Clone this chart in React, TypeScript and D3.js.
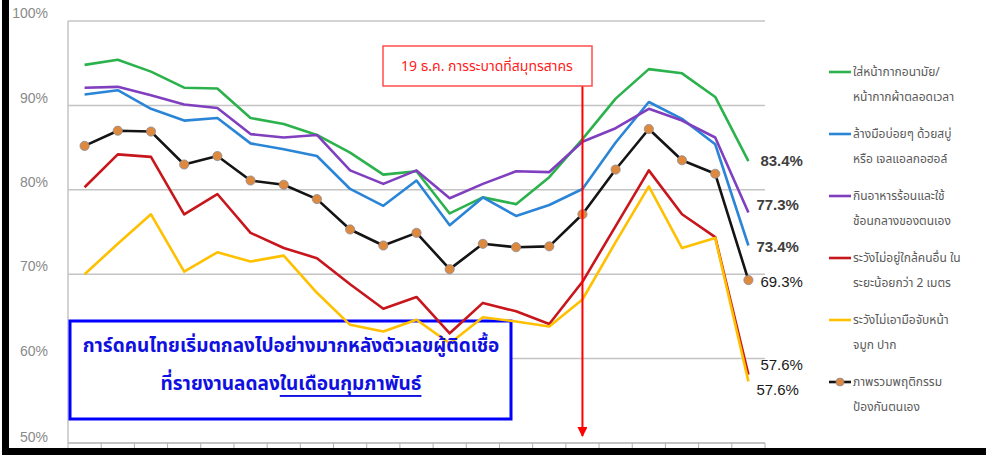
import * as d3 from "d3";

// 21 survey rounds (no labels shown on the axis)
const periods = ["1", "2", "3", "4", "5", "6", "7", "8", "9", "10", "11", "12", "13", "14", "15", "16", "17", "18", "19", "20", "21"];

const maskValues = [94.8, 95.4, 94.0, 92.1, 92.0, 88.5, 87.8, 86.5, 84.4, 81.8, 82.2, 77.2, 79.1, 78.3, 81.5, 86.0, 90.8, 94.3, 93.8, 91.0, 83.4];
const handValues = [91.3, 91.8, 89.6, 88.2, 88.5, 85.5, 84.8, 84.0, 80.1, 78.1, 81.1, 75.8, 79.1, 76.9, 78.2, 80.1, 85.6, 90.4, 88.4, 85.4, 73.4];
const foodValues = [92.1, 92.2, 91.2, 90.1, 89.7, 86.6, 86.2, 86.5, 82.3, 80.7, 82.3, 79.0, 80.7, 82.2, 82.1, 85.7, 87.3, 89.6, 88.2, 86.2, 77.3];
const distanceValues = [80.3, 84.2, 83.9, 77.1, 79.5, 74.9, 73.1, 71.9, 68.8, 65.9, 67.3, 63.0, 66.6, 65.6, 64.1, 69.1, 75.7, 82.3, 77.1, 74.4, 58.1];
const faceValues = [70.0, 73.6, 77.1, 70.3, 72.6, 71.5, 72.2, 67.8, 64.0, 63.2, 64.6, 61.8, 64.9, 64.4, 63.8, 67.0, 73.8, 80.4, 73.1, 74.3, 57.3];
const overallValues = [85.2, 87.0, 86.9, 83.0, 84.0, 81.1, 80.6, 78.9, 75.3, 73.4, 74.9, 70.6, 73.6, 73.2, 73.3, 77.1, 82.4, 87.2, 83.5, 81.9, 69.3];

const seriesNames = [
  ["ใส่หน้ากากอนามัย/", "หน้ากากผ้าตลอดเวลา"],
  ["ล้างมือบ่อยๆ ด้วยสบู่", "หรือ เจลแอลกอฮอล์"],
  ["กินอาหารร้อนและใช้", "ช้อนกลางของตนเอง"],
  ["ระวังไม่อยู่ใกล้คนอื่น ใน", "ระยะน้อยกว่า 2 เมตร"],
  ["ระวังไม่เอามือจับหน้า", "จมูก ปาก"],
  ["ภาพรวมพฤติกรรม", "ป้องกันตนเอง"],
];
const seriesColors = ["#2bb24c", "#2a85d6", "#7f3fbf", "#c8161d", "#ffc000", "#141414"];
const endLabels = ["83.4%", "73.4%", "77.3%", "57.6%", "57.6%", "69.3%"];
const yTicks = [50, 60, 70, 80, 90, 100];

const eventLabel = "19 ธ.ค. การระบาดที่สมุทรสาคร";
const eventIndex = 15;
const noteLine1 = "การ์ดคนไทยเริ่มตกลงไปอย่างมากหลังตัวเลขผู้ติดเชื้อ";
const noteLine2a = "ที่รายงานลดลง";
const noteLine2b = "ในเดือนกุมภาพันธ์";

const allSeries = [maskValues, handValues, foodValues, distanceValues, faceValues, overallValues];

export default function App() {
  const width = 986,
    height = 455;
  const left = 68,
    right = 765,
    top = 21,
    bottom = 443;
  const thai = "'Noto Sans Thai', Tahoma, 'Liberation Sans', sans-serif";

  const xScale = d3.scaleBand().domain(periods).range([left, right]);
  const xc = (i: number) => (xScale(periods[i]) as number) + xScale.bandwidth() / 2;
  const yScale = d3.scaleLinear().domain([50, 100]).range([bottom, top]);

  const line = d3
    .line<number>()
    .x((_, i) => xc(i))
    .y((d) => yScale(d));

  // horizontal offsets of the end labels
  const labelDx = [12, 8, 8, 12, 8, 12];
  const labelY = [160, 246, 204, 364, 389, 281];

  const eventX = xc(eventIndex);

  return (
    <svg
      width={width}
      height={height}
      style={{ position: "absolute", left: 0, top: 0, background: "#fff" }}
    >
      <defs>
        <marker id="arrow" viewBox="0 0 10 10" refX="9" refY="5" markerWidth="5" markerHeight="5" orient="auto">
          <path d="M0,0 L10,5 L0,10 z" fill="#ff0000" />
        </marker>
      </defs>

      {/* grid */}
      {yTicks.map((t) => (
        <g key={t}>
          {t > 50 && (
            <line x1={left} x2={right} y1={yScale(t)} y2={yScale(t)} stroke="#c4c4c4" strokeWidth={1.5} />
          )}
          <text
            x={48}
            y={yScale(t)}
            textAnchor="end"
            dy={t === 50 ? "-0.05em" : "-0.2em"}
            fontFamily="'Liberation Sans Narrow', 'Liberation Sans', sans-serif"
            fontSize={14}
            fill="#8a8a8a"
          >
            {t}%
          </text>
        </g>
      ))}
      <line x1={left} x2={left} y1={top} y2={bottom} stroke="#c4c4c4" strokeWidth={1.5} />
      <line x1={left} x2={right} y1={bottom} y2={bottom} stroke="#b0b0b0" strokeWidth={1.5} />
      {periods.map((p) => (
        <line
          key={p}
          x1={(xScale(p) as number) + xScale.bandwidth()}
          x2={(xScale(p) as number) + xScale.bandwidth()}
          y1={bottom}
          y2={bottom + 5}
          stroke="#b0b0b0"
        />
      ))}
      <line x1={left} x2={left} y1={bottom} y2={bottom + 5} stroke="#b0b0b0" />

      {/* note box background (series run over it) */}
      <rect x={70} y={321} width={441} height={98} fill="#fff" stroke="#0000ff" strokeWidth={3} />

      {/* series */}
      {allSeries.map((s, k) => (
        <path key={k} d={line(s) as string} fill="none" stroke={seriesColors[k]} strokeWidth={2.6} strokeLinejoin="round" />
      ))}
      {overallValues.map((v, i) => (
        <circle key={i} cx={xc(i)} cy={yScale(v)} r={4.6} fill="#de8a3e" stroke="#8b8b9b" strokeWidth={0.8} />
      ))}

      {/* note text */}
      <text x={291} y={346} textAnchor="middle" dominantBaseline="central" fontFamily={thai} fontSize={19} fontWeight={700} fill="#1010e0">
        {noteLine1}
      </text>
      <text x={291} y={384} textAnchor="middle" dominantBaseline="central" fontFamily={thai} fontSize={19} fontWeight={700} fill="#1010e0">
        {noteLine2a}
        <tspan textDecoration="underline" style={{ textDecoration: "underline" }}>
          {noteLine2b}
        </tspan>
      </text>

      {/* end labels */}
      {endLabels.map((l, k) => (
        <text
          key={k}
          x={xc(periods.length - 1) + labelDx[k]}
          y={labelY[k]}
          dominantBaseline="central"
          fontFamily="'Liberation Sans', sans-serif"
          fontSize={15}
          fontWeight={k === 5 || k === 3 || k === 4 ? 500 : 700}
          fill={k === 5 || k === 3 || k === 4 ? "#1a1a1a" : "#404040"}
        >
          {l}
        </text>
      ))}

      {/* event marker */}
      <line x1={eventX} x2={eventX} y1={86} y2={436} stroke="#ff0000" strokeWidth={2} markerEnd="url(#arrow)" />
      <rect x={383} y={46} width={209} height={40} fill="#fff" stroke="#ff4d4d" strokeWidth={1.5} />
      <text x={487} y={66} textAnchor="middle" dominantBaseline="central" fontFamily={thai} fontSize={14} fill="#ff2020">
        {eventLabel}
      </text>

      {/* legend */}
      {seriesNames.map((n, k) => {
        const y = 72 + k * 62;
        return (
          <g key={k}>
            <line x1={829} x2={851} y1={y} y2={y} stroke={seriesColors[k]} strokeWidth={2.6} />
            {k === 5 && <circle cx={840} cy={y} r={4} fill="#de8a3e" stroke="#8b8b9b" strokeWidth={0.8} />}
            <text x={853} y={y} dominantBaseline="central" fontFamily={thai} fontSize={12} fill="#5a5a5a">
              {n[0]}
            </text>
            <text x={853} y={y + 25} dominantBaseline="central" fontFamily={thai} fontSize={12} fill="#5a5a5a">
              {n[1]}
            </text>
          </g>
        );
      })}

      {/* frame */}
      <rect x={2} y={0} width={7} height={455} fill="#000" />
      <rect x={2} y={448} width={984} height={7} fill="#000" />
    </svg>
  );
}
